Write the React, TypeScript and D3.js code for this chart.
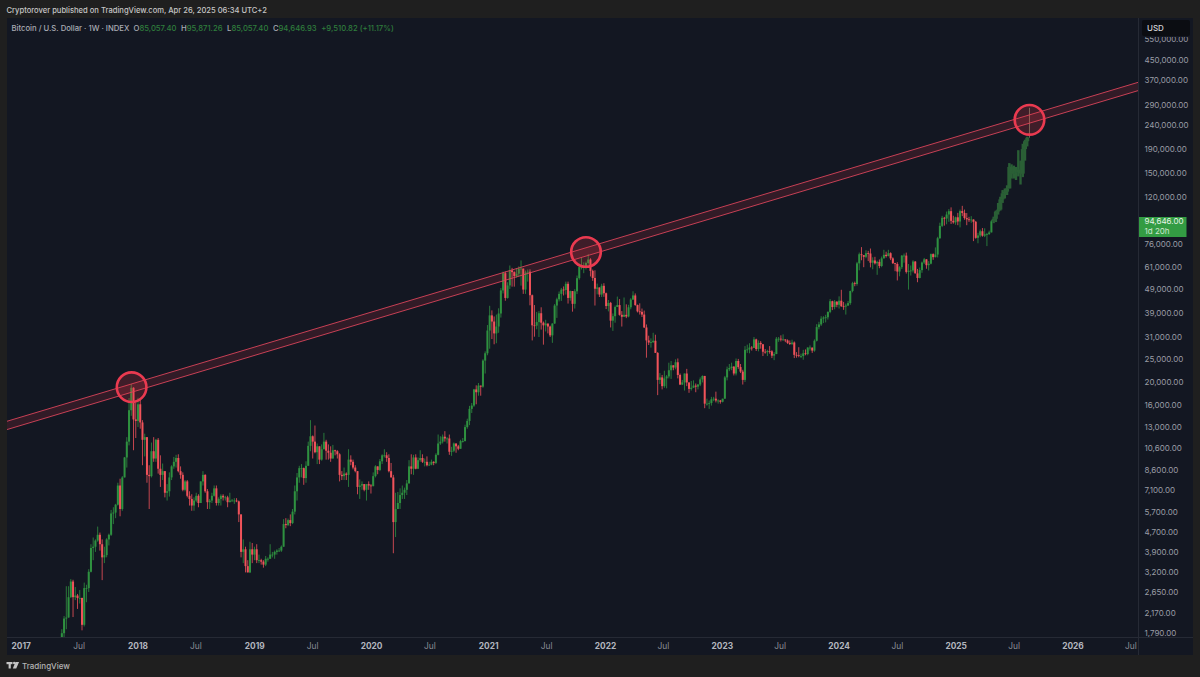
import React from "react";
import * as d3 from "d3";

// Weekly bars: [close, high, low]; a week opens at the previous close.
const firstWeek = "2017-04-24";
const firstOpen = 1240;
const weeks2017: number[][] = [
  [1340,1350,1230],[1560,1640,1340],[1780,1850,1540],[2050,2100,1700],[2070,2800,1850],[2520,2800,2100],[2930,3000,2500],[2520,2980,2080],
  [2560,2780,2450],[2500,2600,2250],[2500,2700,2370],[1930,2510,1830],[2750,2900,1900],[2750,2840,2400],[3220,3300,2650],[4050,4200,3200],
  [4100,4480,3600],[4350,4400,3900],[4600,4980,4300],[4200,4700,3950],[3700,4400,2970],[3780,4100,3500],[4400,4450,3700],[4600,4650,4150],
  [5650,5850,4550],[5700,6000,5100],[6150,6200,5400],[7400,7600,6100],[5900,7900,5500],[8000,8100,5800],[9700,9750,8000],[11300,11800,8800],
  [15300,17200,10900],[19000,19700,14500],[14000,19100,10400],[13800,16500,11700],
];
const weeks2018: number[][] = [
  [16200,17250,13000],[13600,17100,12800],[11500,13900,9000],[11800,12200,9800],[8200,11800,7600],[8100,9000,5900],[10300,11200,8000],[9600,11800,9300],
  [11500,11600,9300],[8700,11700,8300],[8200,9900,7300],[8500,9150,7800],[6900,8500,6600],[7000,7500,6400],[8000,8400,6650],[8900,9000,7800],
  [9300,9750,8700],[9650,9950,8800],[8500,10000,8400],[8200,8900,7900],[7100,8400,7000],[7700,7800,7000],[6700,7800,6600],[6500,7000,6100],
  [6100,6800,5800],[6400,6600,5800],[6700,6900,6300],[6250,6800,6000],[7700,7700,6300],[8200,8500,7400],[7000,8250,6900],[6300,7150,5900],
  [6400,6500,5900],[6700,6900,6250],[7200,7400,6650],[6250,7400,6100],[6500,6600,6100],[6700,6800,6100],[6600,6800,6400],[6600,6700,6400],
  [6300,6700,6000],[6400,6900,6300],[6400,6500,6350],[6400,6550,6200],[6350,6550,6300],[5600,6400,5200],[3900,5600,3700],[4000,4400,3500],
  [3400,4100,3200],[3200,3600,3200],[4000,4300,3180],[3800,4250,3500],[4000,4100,3600],
];
const weeks2019: number[][] = [
  [3600,4200,3500],[3600,3800,3500],[3550,3650,3450],[3450,3600,3350],[3650,3750,3400],[3650,3700,3550],[3800,4200,3650],[3800,3900,3700],
  [3900,3950,3650],[3950,4000,3800],[3950,4050,3900],[4100,4150,3900],[5100,5350,4100],[5050,5400,4900],[5300,5380,5000],[5150,5600,5000],
  [5750,5900,5100],[7000,7400,5600],[8000,8350,6400],[8750,8950,7600],[8750,9100,8000],[7950,8800,7450],[8950,9350,7600],[10850,11300,8950],
  [11900,13900,10300],[11300,12000,9600],[10200,13200,10100],[10800,11100,9100],[9500,10800,9100],[10500,11000,9400],[11300,12300,11000],[10350,11500,9500],
  [10150,11000,9500],[9600,10800,9300],[10400,10950,9600],[10300,10450,9900],[10000,10400,9600],[8200,10100,7700],[8100,8500,7800],[8300,8800,7800],
  [8200,8400,7800],[9500,10500,7300],[9300,9900,9000],[8800,9500,8650],[8500,9000,8400],[7300,8500,6800],[7400,7850,6500],[7500,7700,7100],
  [7100,7450,7000],[7500,7500,6400],[7400,7700,7100],[7350,7500,6850],
];
const weeks2020: number[][] = [
  [8100,8400,7350],[8900,9000,8000],[8600,8750,8250],[9350,9550,8500],[9900,10000,9100],[9900,10500,9700],[9650,10200,9300],[8500,10000,8400],
  [8000,9200,8000],[5200,8200,3850],[5900,6900,4500],[6250,6950,5900],[6750,7200,5900],[6900,7400,6500],[7100,7250,6500],[7550,7800,6750],
  [8900,9450,7600],[8700,10000,8250],[9700,9950,8200],[8700,10000,8650],[9450,9700,8700],[9650,10400,9300],[9300,10000,9200],[9300,9600,8900],
  [9000,9800,8900],[9050,9300,8950],[9300,9500,9000],[9200,9350,9000],[9950,10100,9100],[11100,12100,9900],[11300,11900,10950],[11850,12100,11100],
  [11650,12500,11300],[11650,11800,11100],[10250,12100,9950],[10350,10750,9850],[11100,11200,10200],[10800,11000,10150],[10550,10950,10400],[11350,11500,10550],
  [11350,11700,11200],[13000,13300,11350],[13800,14100,12800],[15500,15950,13250],[16000,16400,14900],[18700,18800,15800],[18200,19450,16200],[19400,19900,17600],
  [19200,19400,17600],[24700,25000,19000],[26500,27000,21800],[33000,34800,26000],
];
const weeks2021: number[][] = [
  [38200,41900,27700],[36000,40100,30400],[32100,37800,28900],[34300,38500,29200],[38900,40900,32300],[48600,49700,37400],[57400,58300,47200],[45200,58300,44000],
  [51000,52600,44900],[59000,61800,49300],[58000,60400,50400],[55800,58400,50400],[57100,60100,55000],[60000,61300,55400],[60000,64900,50900],[49000,57500,47000],
  [57800,58900,47000],[58200,59500,52900],[46400,59600,42100],[34700,46700,30000],[34600,42200,31100],[35800,39500,33400],[39000,39800,31000],[35600,41300,33300],
  [34700,36000,28800],[35300,36600,32700],[34300,35000,32100],[31500,34600,31000],[35300,35400,29300],[42000,42600,35200],[44600,45300,37300],[47000,48100,43700],
  [49000,49800,43900],[48800,50500,46300],[51800,52900,46700],[45200,52900,42800],[48300,48500,44000],[42700,47000,39600],[48200,49200,40800],[54700,56100,46900],
  [60900,62900,53900],[60900,67000,59500],[61300,63700,57400],[63300,64200,59500],[65500,69000,62300],[58700,66300,55600],[54800,59400,53300],[49400,59000,42000],
  [50000,51900,46800],[46700,49500,45600],[50800,51800,45600],[47300,52100,45700],
];
const weeks2022: number[][] = [
  [41800,47600,40600],[43100,44300,39700],[36300,43500,34000],[37900,38900,32900],[41400,42000,35600],[42200,45800,41700],[38400,44700,38100],[37700,39800,34300],
  [38400,45400,37600],[37800,42500,37200],[41300,42300,37500],[44500,45100,40500],[46300,48200,44400],[42200,47200,41900],[39700,42400,39300],[39500,42900,38500],
  [38500,40800,37600],[34000,40000,33800],[30000,35000,25400],[29400,31400,28700],[29500,30600,28000],[29900,32300,29300],[26600,31700,26600],[20500,26800,17700],
  [21000,21900,19700],[19300,21500,18700],[20800,22400,19000],[21200,21500,18900],[22500,24200,20800],[23600,24600,20700],[23100,23600,22500],[24300,25000,22700],
  [21500,25200,20800],[19600,21800,19500],[20000,20500,19500],[21800,21800,18500],[20000,22800,19300],[18800,19900,18100],[19000,20300,18500],[19400,20400,19100],
  [19200,19800,18200],[19600,19700,18700],[20600,21000,19300],[21300,21400,20000],[16300,21000,15600],[16300,17100,16000],[16400,16800,15500],[17000,17400,16000],
  [17100,17400,16700],[16800,18300,16500],[16800,17000,16300],[16600,16900,16300],
];
const weeks2023: number[][] = [
  [17100,17100,16500],[21000,21300,17100],[22700,23300,20400],[23000,23900,22300],[23300,24200,22500],[21800,23400,21400],[24600,25200,21400],[23200,25100,22800],
  [22200,23900,21900],[20500,22600,19600],[27400,28400,20100],[27500,28800,26600],[28000,29200,26500],[27900,28400,27200],[30300,31000,28100],[27600,30500,27100],
  [29300,30000,27000],[28900,29800,27700],[26900,29000,25800],[26800,27600,26400],[27100,27400,25800],[27000,28400,26400],[25900,27300,25300],[26300,26800,24800],
  [30500,31000,26300],[30500,31000,29600],[30300,31500,29700],[30300,31800,29900],[30000,30300,29500],[29300,30300,29000],[29000,30000,28700],[29400,30200,28700],
  [26100,29700,25300],[26000,26800,25400],[25800,28100,25500],[25800,26400,25300],[26500,27400,24900],[26300,27500,26000],[28000,28100,26000],[28000,28600,27200],
  [27200,28000,26600],[29900,30300,26900],[34100,35100,29700],[35000,35900,33400],[37000,37900,34500],[37400,37900,35500],[37500,38400,35700],[39500,39700,36700],
  [43800,44700,39000],[41400,44000,40200],[43600,44300,40500],[42300,43800,41300],
];
const weeks2024: number[][] = [
  [44000,45900,40800],[41700,48900,41500],[41600,43500,40300],[42000,42800,38500],[43000,43900,41800],[48300,48500,42300],[52100,52800,47700],[51700,52900,50600],
  [63100,64000,50900],[68900,70000,59000],[68300,73800,65000],[67200,68300,60800],[69600,71600,66300],[69400,71200,64500],[63500,72800,60700],[64900,66900,59600],
  [63100,67200,62400],[64000,64700,56500],[61500,65500,60200],[66200,67400,60800],[68500,71900,66500],[67700,70600,66700],[69600,71900,67500],[66200,70200,65100],
  [63200,66900,62700],[62700,63400,58500],[58300,63800,53500],[60800,61400,55700],[68000,68300,59700],[68000,69400,63500],[58100,70000,57200],[58700,62700,49000],
  [58900,61800,56100],[64200,65000,57800],[57300,64500,57200],[54800,59800,52600],[59100,60600,54600],[63600,64200,57600],[65600,66500,62700],[62000,65000,59900],
  [62900,64500,58900],[69000,69400,62500],[67000,69500,65300],[68700,73600,66800],[80400,81500,66800],[90600,93400,80000],[97900,99800,89500],[97200,98800,90800],
  [101100,104000,92000],[104400,106500,94200],[95100,108300,92200],[93700,99900,92500],[98400,99000,91500],
];
const weeks2025: number[][] = [
  [94500,102700,91200],[104500,106000,89300],[102600,109900,99500],[97700,106000,96100],[96500,102500,91200],[96100,98800,94100],[96300,99500,93300],[94200,96500,78200],
  [80700,95000,80000],[82600,84700,76600],[86000,87400,81200],[82400,88700,81600],[83500,88500,81300],[83700,84700,74500],[85050,86500,83000],[94646,95871,85057],
];
// The faded bars that follow the last real week.
const projected: number[][] = [
  [97000,99000,93000],[104000,105000,94000],[106000,113000,101000],[117000,120000,105000],[124000,128000,113000],[126000,130000,118000],
  [130000,134000,122000],[160000,166000,132000],[150000,164000,143000],[153000,162000,143000],[152000,160000,141000],[156000,188000,146000],
  [150000,170000,135000],[190000,200000,145000],[205000,208000,170000],[212000,214000,195000],[220000,283000,213000],
];
const priceTicks = [550000,450000,370000,290000,240000,190000,150000,120000,76000,61000,49000,39000,31000,25000,20000,16000,13000,10600,8600,7100,5700,4700,3900,3200,2650,2170,1790];
const channelDates = ["2016-10-01", "2026-10-01"];
const channelUpper = [13160, 385900];
const channelLower = [12147, 356200];
const circleDates = ["2017-12-12", "2021-11-01", "2025-08-18"];
const circlePrices = [19100, 70400, 251900];
const legend = [["O", "85,057.40"], ["H", "95,871.26"], ["L", "85,057.40"], ["C", "94,646.93"]];

const W = 1200, H = 677;
const paneL = 7, paneR = 1193, paneT = 18, paneB = 655, axisX = 1138, axisY = 637;
const UI = "Inter, 'Noto Sans', sans-serif";
const UP = "#2f9140", DOWN = "#f0525a", GHOST = "#2a5e36";

const x = d3.scaleUtc().domain([new Date("2018-01-01"), new Date("2026-01-01")]).range([138, 1073]);
const y = d3.scaleLog().domain([1716, 673000]).range([637, 18]);
const fmtPrice = d3.format(",.2f");

type Bar = { date: Date; o: number; c: number; h: number; l: number };
function toBars(rows: number[][], start: Date, open: number): Bar[] {
  let prev = open;
  return rows.map((r, i) => {
    const b = { date: d3.utcWeek.offset(start, i), o: prev, c: r[0], h: r[1], l: r[2] };
    prev = r[0];
    return b;
  });
}
const realRows = [...weeks2017, ...weeks2018, ...weeks2019, ...weeks2020, ...weeks2021, ...weeks2022, ...weeks2023, ...weeks2024, ...weeks2025];
const realBars = toBars(realRows, new Date(firstWeek), firstOpen);
const ghostBars = toBars(projected, d3.utcWeek.offset(new Date(firstWeek), realRows.length), 94646);
const lastPrice = realBars[realBars.length - 1].c;

const timeTicks = d3.utcMonth.range(new Date("2017-01-01"), new Date("2026-08-01"), 6).filter((d) => x(d) > paneL);

function Candle({ b, ghost, last }: { b: Bar; ghost?: boolean; last?: boolean }) {
  const cx = x(b.date);
  const col = last ? "#66705a" : ghost ? GHOST : b.c >= b.o ? UP : DOWN;
  const top = y(Math.max(b.o, b.c)), bot = y(Math.min(b.o, b.c));
  const h = y(Math.max(b.h, b.o, b.c)), l = y(Math.min(b.l, b.o, b.c));
  return (
    <g>
      <line x1={cx} x2={cx} y1={h} y2={l} stroke={col} strokeWidth={last ? 1 : ghost ? 2.4 : 0.8} />
      {last ? null : <rect x={cx - (ghost ? 2 : 1)} width={ghost ? 4 : 2} y={top} height={Math.max(bot - top, 0.8)} fill={col} />}
    </g>
  );
}

export default function App() {
  const cxs = channelDates.map((d) => x(new Date(d)));
  const line = d3.line<number>().x((_, i) => cxs[i]).y((p) => y(p));
  const band = `M${cxs[0]},${y(channelUpper[0])}L${cxs[1]},${y(channelUpper[1])}L${cxs[1]},${y(channelLower[1])}L${cxs[0]},${y(channelLower[0])}Z`;
  return (
    <svg width={W} height={H} viewBox={`0 0 ${W} ${H}`} style={{ position: "fixed", left: 0, top: 0, display: "block", background: "#1f1f1f" }}>
      <defs>
        <clipPath id="pane"><rect x={paneL} y={paneT} width={axisX - paneL} height={axisY - paneT} /></clipPath>
        <clipPath id="axis"><rect x={axisX} y={37} width={paneR - axisX} height={axisY - 37} /></clipPath>
        <filter id="soft" x="-2%" y="-2%" width="104%" height="104%"><feGaussianBlur stdDeviation="0.4" /></filter>
      </defs>
      <rect x={paneL} y={paneT} width={paneR - paneL} height={paneB - paneT} fill="#131722" />
      <line x1={axisX + 0.5} x2={axisX + 0.5} y1={paneT} y2={paneB} stroke="#262a35" />
      <line x1={paneL} x2={paneR} y1={axisY + 0.5} y2={axisY + 0.5} stroke="#262a35" />

      <text x={6.5} y={12.5} fontFamily={UI} fontSize={7.6} fontWeight={500} fill="#c6c6c6">Cryptorover published on TradingView.com, Apr 26, 2025 06:34 UTC+2</text>

      <g clipPath="url(#pane)">
        <g filter="url(#soft)">
          {realBars.map((b, i) => <Candle key={i} b={b} />)}
          {ghostBars.map((b, i) => <Candle key={i} b={b} ghost last={i === ghostBars.length - 1} />)}
        </g>
        <path d={band} fill="#f23645" fillOpacity={0.14} />
        <path d={line(channelUpper) ?? ""} fill="none" stroke="#d9445a" strokeWidth={0.9} />
        <path d={line(channelLower) ?? ""} fill="none" stroke="#d9445a" strokeWidth={0.9} />
        {circleDates.map((d, i) => (
          <circle key={d} cx={x(new Date(d))} cy={y(circlePrices[i])} r={14.8} fill="#f23645" fillOpacity={0.2} stroke="#ea3a50" strokeWidth={2.6} />
        ))}
      </g>

      <text x={11.5} y={31} fontFamily={UI} fontSize={7.7} fontWeight={500} fill="#a9acb4">
        Bitcoin / U.S. Dollar · 1W · INDEX
        {legend.map(([k, v]) => (
          <tspan key={k} dx={4.5}>
            <tspan fill="#a9acb4">{k}</tspan>
            <tspan fill="#2f7d3c">{v}</tspan>
          </tspan>
        ))}
        <tspan dx={4.5} fill="#2f7d3c">+9,510.82 (+11.17%)</tspan>
      </text>

      <g clipPath="url(#axis)" fontFamily={UI} fontSize={8} fill="#9a9da6">
        {priceTicks.map((p) => (
          <text key={p} x={1144.5} y={y(p)} dy="0.36em">{fmtPrice(p)}</text>
        ))}
      </g>
      <rect x={1142} y={20} width={48} height={16} rx={2} fill="#0b0d12" />
      <text x={1147} y={31} fontFamily={UI} fontSize={8} fontWeight={500} fill="#d4d5d8">USD</text>

      <rect x={1139} y={217} width={47.5} height={20} fill="#339c43" />
      <text x={1144.5} y={y(lastPrice)} dy="0.36em" fontFamily={UI} fontSize={8} fill="#e8f3e8">{fmtPrice(lastPrice)}</text>
      <text x={1144.5} y={233.5} fontFamily={UI} fontSize={8} fill="#cfe6cf">1d 20h</text>

      <g fontFamily={UI} fontSize={8.4} textAnchor="middle">
        {timeTicks.map((d) => {
          const year = d.getUTCMonth() === 0;
          return (
            <text key={+d} x={x(d)} y={649} fontWeight={year ? 700 : 400} fill={year ? "#b2b5be" : "#8a8d96"}>
              {year ? d.getUTCFullYear() : "Jul"}
            </text>
          );
        })}
      </g>

      <g fill="#c4c4c4">
        <rect x={6.5} y={662} width={6} height={2.2} />
        <rect x={8.6} y={662} width={2.2} height={6.5} />
        <circle cx={14.2} cy={663} r={1.2} />
        <path d="M15.5 662h3.6l-2.9 6.5h-3.4z" />
      </g>
      <text x={22} y={669} fontFamily={UI} fontSize={8} fontWeight={500} fill="#b4b4b4">TradingView</text>
    </svg>
  );
}
